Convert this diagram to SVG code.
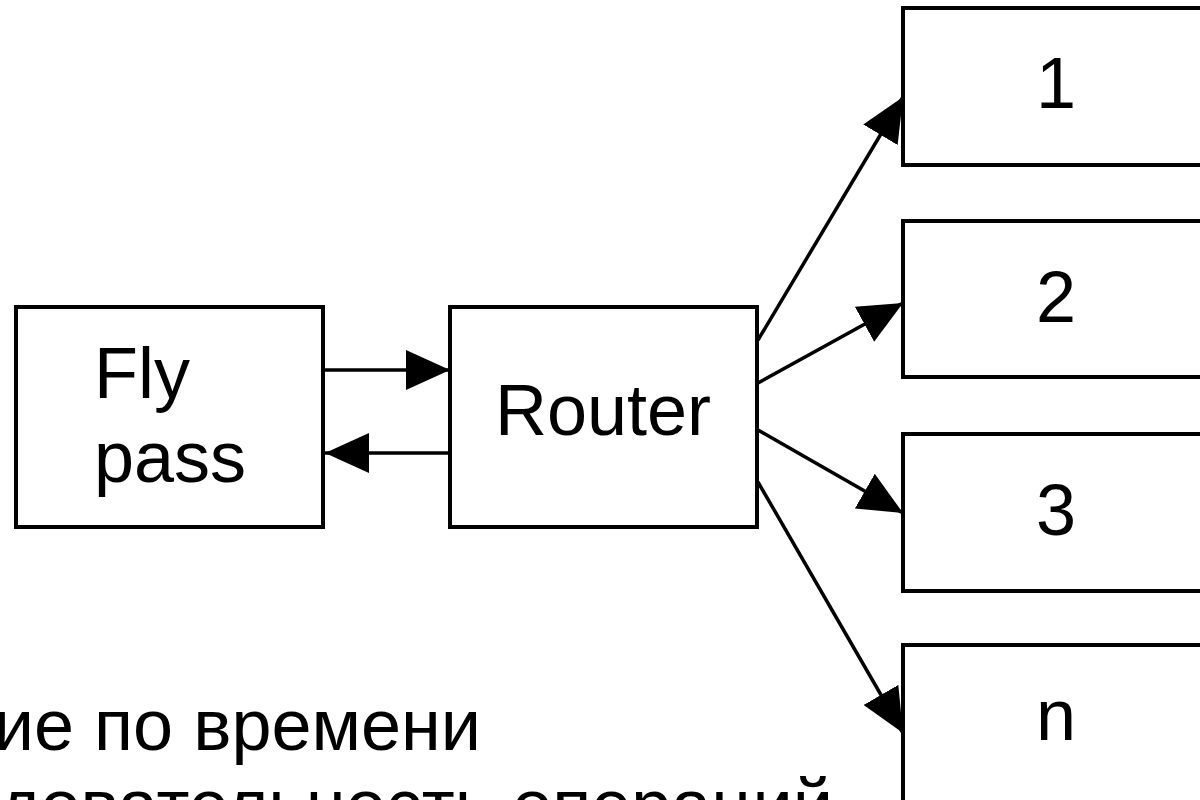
<svg xmlns="http://www.w3.org/2000/svg" width="1200" height="800" viewBox="0 0 1200 800">
<style>
.box{fill:#fff;stroke:#000;stroke-width:4}
.lbl{font-family:"Liberation Sans",Arial,sans-serif;font-size:72px;fill:#000}
.edge{stroke:#000;stroke-width:3.5;fill:none}
</style>
<defs>
<marker id="arr" viewBox="0 0 44 40" refX="44" refY="20" markerWidth="44" markerHeight="40" markerUnits="userSpaceOnUse" orient="auto">
<path d="M0,0 L44,20 L0,40 Z" fill="#000"/>
</marker>
</defs>
<rect width="1200" height="800" fill="#fff"/>
<g id="flypass">
<rect class="box" x="16" y="307" width="307" height="220"/>
<text class="lbl" x="94" y="398">Fly</text>
<text class="lbl" x="94" y="482">pass</text>
</g>
<g id="router">
<rect class="box" x="450" y="307" width="307" height="220"/>
<text class="lbl" x="603" y="435" text-anchor="middle">Router</text>
</g>
<g id="n1">
<rect class="box" x="903" y="8" width="307" height="157"/>
<text class="lbl" x="1056" y="108" text-anchor="middle">1</text>
</g>
<g id="n2">
<rect class="box" x="903" y="221" width="307" height="156"/>
<text class="lbl" x="1056" y="322" text-anchor="middle">2</text>
</g>
<g id="n3">
<rect class="box" x="903" y="434" width="307" height="157"/>
<text class="lbl" x="1056" y="535" text-anchor="middle">3</text>
</g>
<g id="nn">
<rect class="box" x="903" y="645" width="307" height="157"/>
<text class="lbl" x="1056" y="740" text-anchor="middle">n</text>
</g>
<g id="connectors">
<line class="edge" x1="325" y1="370" x2="450" y2="370" marker-end="url(#arr)"/>
<line class="edge" x1="450" y1="453" x2="325" y2="453" marker-end="url(#arr)"/>
<line class="edge" x1="758" y1="340" x2="903" y2="97" marker-end="url(#arr)"/>
<line class="edge" x1="758" y1="383" x2="903" y2="303" marker-end="url(#arr)"/>
<line class="edge" x1="758" y1="430" x2="903" y2="513" marker-end="url(#arr)"/>
<line class="edge" x1="758" y1="482" x2="903" y2="733" marker-end="url(#arr)"/>
</g>
<g id="caption">
<text class="lbl" x="481" y="750" text-anchor="end">ие по времени</text>
<text class="lbl" x="833" y="830" text-anchor="end">довательность операций</text>
</g>
</svg>
